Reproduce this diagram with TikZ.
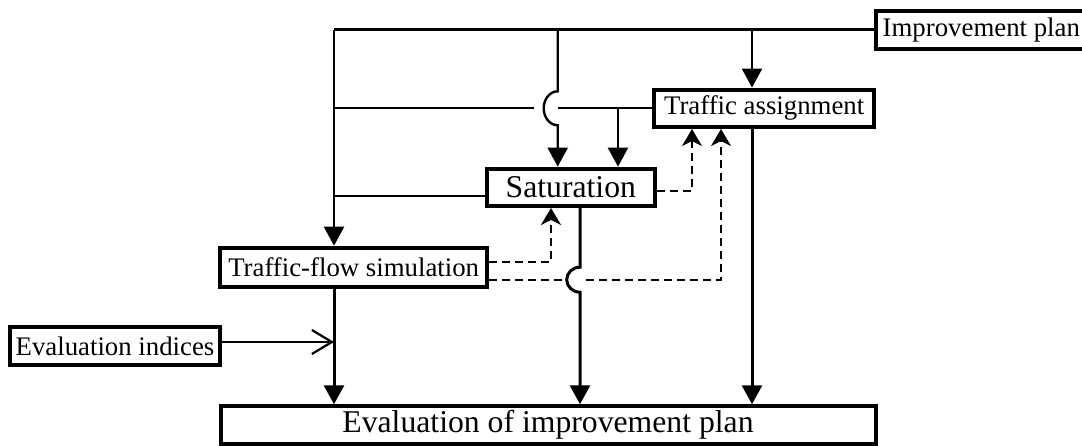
\documentclass[tikz,border=0pt]{standalone}
\usepackage{fontspec}
\setmainfont{Liberation Serif}
\usepackage{tikz}
\usetikzlibrary{arrows.meta,positioning,calc}

\begin{document}
\begin{tikzpicture}[x=1pt,y=-1pt,font=\fontsize{26.8}{30}\selectfont,
    block/.style={draw, line width=4pt, inner sep=0pt, minimum height=38pt},
    bigblock/.style={block, font=\fontsize{31.7}{36}\selectfont},
    link/.style={line width=2.3pt},
    flowarrow/.style={line width=2.4pt, -{Triangle[length=19pt,width=20pt]}},
    fbarrow/.style={line width=2.2pt, dash pattern=on 8pt off 5pt, -{Stealth[length=17pt,width=20pt,inset=5pt]}},
    openarrow/.style={line width=2.2pt, -{Straight Barb[length=20pt,width=24pt]}}]
        \useasboundingbox (0,0) rectangle (1082,446);

        \node[block, anchor=west, inner xsep=7pt] (plan) at (873.7,29.6) {Improvement plan};
        \node[block, minimum width=220.5pt, minimum height=37.5pt] (assign) at (764.2,108.3) {Traffic assignment};
        \node[bigblock, minimum width=167.7pt, minimum height=37.3pt] (satur) at (570.8,187.3) {Saturation};
        \node[block, minimum width=266.5pt, minimum height=39pt] (sim) at (353.7,267.2) {Traffic-flow simulation};
        \node[block, minimum width=210pt] (indices) at (115,346) {Evaluation indices};
        \node[bigblock, minimum width=655pt, minimum height=37.5pt] (evalplan) at (548,425) {Evaluation of improvement plan};

        \coordinate (colA) at (334,0);
        \coordinate (colB) at (557.7,0);
        \coordinate (colC) at (618,0);
        \coordinate (colD) at (752,0);
        \coordinate (colS) at (580,0);
        \coordinate (colF) at (551,0);
        \coordinate (colG) at (692,0);
        \coordinate (colH) at (721,0);

        % improvement plan feeds
        \draw[link] (plan.west) -- (plan.west -| colA);
        \draw[flowarrow] (plan.west -| colA) -- (colA |- sim.north);
        \draw[flowarrow] (plan.west -| colD) -- (colD |- assign.north);
        \draw[flowarrow] (plan.west -| colB) -- ($(colB |- assign.west)+(0,-17)$)
            arc[start angle=90, end angle=270, x radius=14pt, y radius=17pt] -- (colB |- satur.north);
        \draw[link] (assign.west -| colA) -- ($(assign.west -| colB)+(-24,0)$);
        \draw[link] (assign.west) -- (assign.west -| colB);
        \draw[flowarrow] (assign.west -| colC) -- (colC |- satur.north);
        \draw[link] ([yshift=-8.4pt]satur.west) -- ([yshift=-8.4pt]satur.west -| colA);

        % feedback
        \draw[fbarrow] ([yshift=-3.7pt]satur.east) -| (colG |- assign.south);
        \draw[fbarrow] ([yshift=5.5pt]sim.east) -| (colF |- satur.south);
        \draw[link, line width=2.2pt, dash pattern=on 8pt off 5pt] ([yshift=-12.5pt]sim.east) -- ($([yshift=-12.5pt]sim.east -| colS)+(-18.5,0)$);
        \draw[fbarrow] ($([yshift=-12.5pt]sim.east -| colS)+(6,0)$) -| (colH |- assign.south);

        % results
        \draw[flowarrow, line width=3pt] (sim.south -| colA) -- (colA |- evalplan.north);
        \draw[flowarrow, line width=3pt] (satur.south -| colS) -- ($([yshift=-12.5pt]sim.east -| colS)+(0,-12.5)$)
            arc[start angle=90, end angle=270, x radius=13.3pt, y radius=12.5pt] -- (colS |- evalplan.north);
        \draw[flowarrow, line width=3pt] (assign.south -| colD) -- (colD |- evalplan.north);
        \draw[openarrow] ([yshift=4pt]indices.east) -- ([yshift=4pt]indices.east -| colA);
      \end{tikzpicture}
\end{document}
